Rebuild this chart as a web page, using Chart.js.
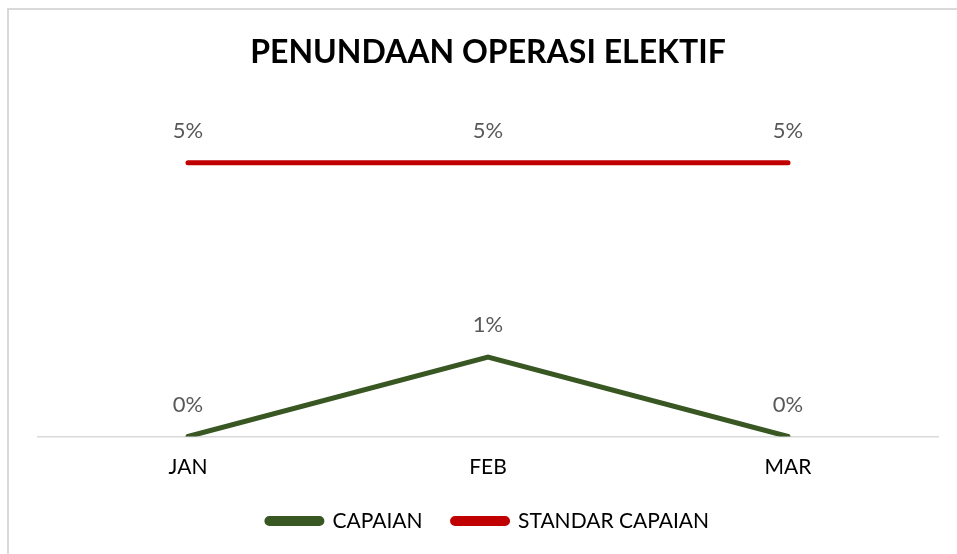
<!DOCTYPE html>
<html lang="id">
<head>
    <meta charset="UTF-8">
    <title>Penundaan Operasi Elektif</title>
    <style>
        body {
            margin: 0;
            background: #fff;
            font-family: 'Lato', sans-serif;
        }
        #wrap {
            position: relative;
            width: 957px;
            height: 554px;
            overflow: hidden;
        }
        #frame {
            position: absolute;
            left: 7px;
            top: 8px;
            width: 1000px;
            height: 600px;
            border-top: 2px solid #d9d9d9;
            border-left: 2px solid #d9d9d9;
        }
        canvas {
            position: absolute;
            left: 0;
            top: 0;
        }
    </style>
    <script src="https://cdn.jsdelivr.net/npm/chart.js"></script>
</head>
<body>
    <div id="wrap">
        <div id="frame"></div>
        <canvas id="graph" width="957" height="554"></canvas>
    </div>
    <script>
        const months = ['JAN', 'FEB', 'MAR'];
        const capaian = [0, 0.0145, 0];
        const standar = [0.05, 0.05, 0.05];

        // draws the "x%" labels above each point, like Excel data labels
        const pointLabels = {
            id: 'pointLabels',
            afterDatasetsDraw(chart) {
                const ctx = chart.ctx;
                ctx.save();
                ctx.font = '22px Lato';
                ctx.fillStyle = '#595959';
                ctx.textAlign = 'center';
                ctx.textBaseline = 'middle';
                chart.data.datasets.forEach((ds, i) => {
                    chart.getDatasetMeta(i).data.forEach((pt, j) => {
                        ctx.fillText(Math.round(ds.data[j] * 100) + '%', pt.x, pt.y - 32);
                    });
                });
                ctx.restore();
            }
        };

        window.onload = function() {
            const ctx = document.getElementById('graph').getContext('2d');
            new Chart(ctx, {
                type: 'line',
                data: {
                    labels: months,
                    datasets: [{
                        label: 'CAPAIAN',
                        data: capaian,
                        borderColor: '#385723',
                        backgroundColor: '#385723',
                        borderWidth: 5,
                        borderCapStyle: 'round',
                        pointRadius: 0,
                        tension: 0
                    }, {
                        label: 'STANDAR CAPAIAN',
                        data: standar,
                        borderColor: '#c00000',
                        backgroundColor: '#c00000',
                        borderWidth: 5,
                        borderCapStyle: 'round',
                        pointRadius: 0,
                        tension: 0
                    }]
                },
                options: {
                    responsive: false,
                    animation: false,
                    layout: {
                        padding: { left: 38, right: 19, top: 0, bottom: 12.5 }
                    },
                    scales: {
                        x: {
                            offset: true,
                            grid: { display: false, drawTicks: false },
                            border: { color: '#d9d9d9', width: 1.5 },
                            ticks: {
                                color: '#000',
                                padding: 18,
                                font: { family: 'Lato', size: 21 }
                            },
                            afterFit(scale) {
                                scale.height = 44;
                            }
                        },
                        y: {
                            display: false,
                            min: 0,
                            max: 0.0603
                        }
                    },
                    plugins: {
                        title: {
                            display: true,
                            text: 'PENUNDAAN OPERASI ELEKTIF',
                            color: '#000',
                            font: { family: 'Lato', size: 32, weight: 'bold' },
                            padding: { top: 33, bottom: 35 }
                        },
                        legend: {
                            position: 'bottom',
                            labels: {
                                color: '#000',
                                font: { family: 'Lato', size: 21 },
                                boxWidth: 55,
                                boxHeight: 5,
                                useBorderRadius: true,
                                borderRadius: 2.5,
                                padding: 30
                            }
                        },
                        tooltip: { enabled: false }
                    }
                },
                plugins: [pointLabels]
            });
        };
    </script>
</body>
</html>
